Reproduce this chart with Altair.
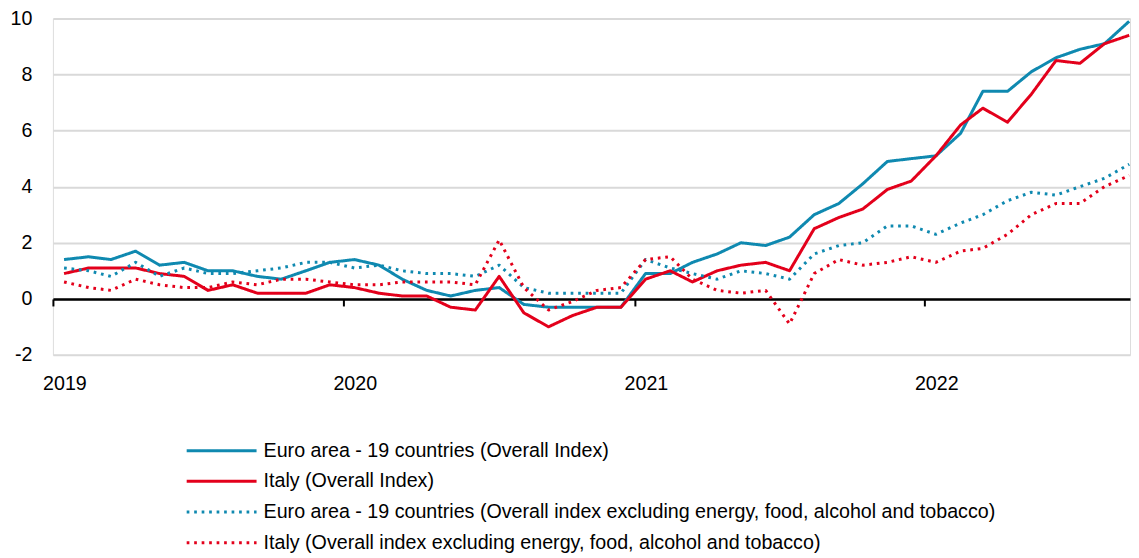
import altair as alt
import pandas as pd

# Monthly observations, Jan 2019 .. Sep 2022 (placed mid-month)
months = [f"{y}-{m:02d}-15" for y in range(2019, 2023) for m in range(1, 13)][:45]

series_names = [
    "Euro area - 19 countries (Overall Index)",
    "Italy (Overall Index)",
    "Euro area - 19 countries (Overall index excluding energy, food, alcohol and tobacco)",
    "Italy (Overall index excluding energy, food, alcohol and tobacco)",
]

euro_overall = [
    1.4, 1.5, 1.4, 1.7, 1.2, 1.3, 1.0, 1.0, 0.8, 0.7, 1.0, 1.3,
    1.4, 1.2, 0.7, 0.3, 0.1, 0.3, 0.4, -0.2, -0.3, -0.3, -0.3, -0.3,
    0.9, 0.9, 1.3, 1.6, 2.0, 1.9, 2.2, 3.0, 3.4, 4.1, 4.9, 5.0,
    5.1, 5.9, 7.4, 7.4, 8.1, 8.6, 8.9, 9.1, 9.9,
]
italy_overall = [
    0.9, 1.1, 1.1, 1.1, 0.9, 0.8, 0.3, 0.5, 0.2, 0.2, 0.2, 0.5,
    0.4, 0.2, 0.1, 0.1, -0.3, -0.4, 0.8, -0.5, -1.0, -0.6, -0.3, -0.3,
    0.7, 1.0, 0.6, 1.0, 1.2, 1.3, 1.0, 2.5, 2.9, 3.2, 3.9, 4.2,
    5.1, 6.2, 6.8, 6.3, 7.3, 8.5, 8.4, 9.1, 9.4,
]
euro_core = [
    1.1, 1.0, 0.8, 1.3, 0.8, 1.1, 0.9, 0.9, 1.0, 1.1, 1.3, 1.3,
    1.1, 1.2, 1.0, 0.9, 0.9, 0.8, 1.2, 0.4, 0.2, 0.2, 0.2, 0.2,
    1.4, 1.1, 0.9, 0.7, 1.0, 0.9, 0.7, 1.6, 1.9, 2.0, 2.6, 2.6,
    2.3, 2.7, 3.0, 3.5, 3.8, 3.7, 4.0, 4.3, 4.8,
]
italy_core = [
    0.6, 0.4, 0.3, 0.7, 0.5, 0.4, 0.4, 0.6, 0.5, 0.7, 0.7, 0.6,
    0.5, 0.5, 0.6, 0.6, 0.6, 0.5, 2.1, 0.4, -0.4, -0.1, 0.3, 0.4,
    1.4, 1.5, 0.7, 0.3, 0.2, 0.3, -0.9, 0.9, 1.4, 1.2, 1.3, 1.5,
    1.3, 1.7, 1.8, 2.3, 3.0, 3.4, 3.4, 4.0, 4.4,
]

y_ticks = [-2, 0, 2, 4, 6, 8, 10]
year_ticks = [2019, 2020, 2021, 2022]

colors = ["#0f89b0", "#e3001b", "#0f89b0", "#e3001b"]
dashes = [[1, 0], [1, 0], [2.7, 4.8], [2.7, 4.8]]

rows = []
for name, vals in zip(series_names, [euro_overall, italy_overall, euro_core, italy_core]):
    for d, v in zip(months, vals):
        rows.append({"date": d, "series": name, "value": v})
df = pd.DataFrame(rows)

FONT = "Liberation Sans, Arial, sans-serif"
FS = 19.7

legend = alt.Legend(
    title=None,
    orient="none",
    legendX=132.5,
    legendY=422,
    direction="vertical",
    symbolType="stroke",
    symbolSize=4900,
    symbolStrokeWidth=3,
    labelFont=FONT,
    labelFontSize=FS,
    labelColor="black",
    labelLimit=2000,
    labelOffset=5.5,
    clipHeight=22,
    rowPadding=8.7,
    padding=0,
)

chart = alt.Chart(df).mark_line(strokeWidth=3, clip=False, strokeJoin="round").encode(
    x=alt.X(
        "date:T",
        scale=alt.Scale(
            type="utc",
            domain=[
                alt.DateTime(year=2019, month=1, date=1, utc=True),
                alt.DateTime(year=2022, month=9, date=16, utc=True),
            ],
        ),
        axis=alt.Axis(
            values=[alt.DateTime(year=y, month=1, date=1, utc=True) for y in year_ticks],
            format="%Y",
            title=None,
            offset=-56,
            grid=False,
            domainColor="black",
            domainWidth=2.5,
            tickColor="black",
            tickWidth=2,
            tickSize=7,
            labelPadding=68,
            labelOffset=11.5,
            labelFlush=False,
            labelFont=FONT,
            labelFontSize=FS,
            labelColor="black",
        ),
    ),
    y=alt.Y(
        "value:Q",
        scale=alt.Scale(domain=[-2, 10], nice=False, zero=False),
        axis=alt.Axis(
            values=y_ticks,
            title=None,
            domain=False,
            ticks=False,
            gridColor="#d9d9d9",
            gridWidth=2,
            labelPadding=21,
            labelFont=FONT,
            labelFontSize=FS,
            labelColor="black",
            labelExpr="datum.value + ''",
        ),
    ),
    color=alt.Color("series:N", scale=alt.Scale(domain=series_names, range=colors), legend=legend),
    strokeDash=alt.StrokeDash("series:N", scale=alt.Scale(domain=series_names, range=dashes), legend=legend),
).properties(
    width=1079,
    height=337,
    padding={"left": 2, "top": 0, "right": 0, "bottom": 0},
).configure_view(stroke=None).configure(background="white")

chart.save("out.html", embed_options={"renderer": "svg", "actions": False})
